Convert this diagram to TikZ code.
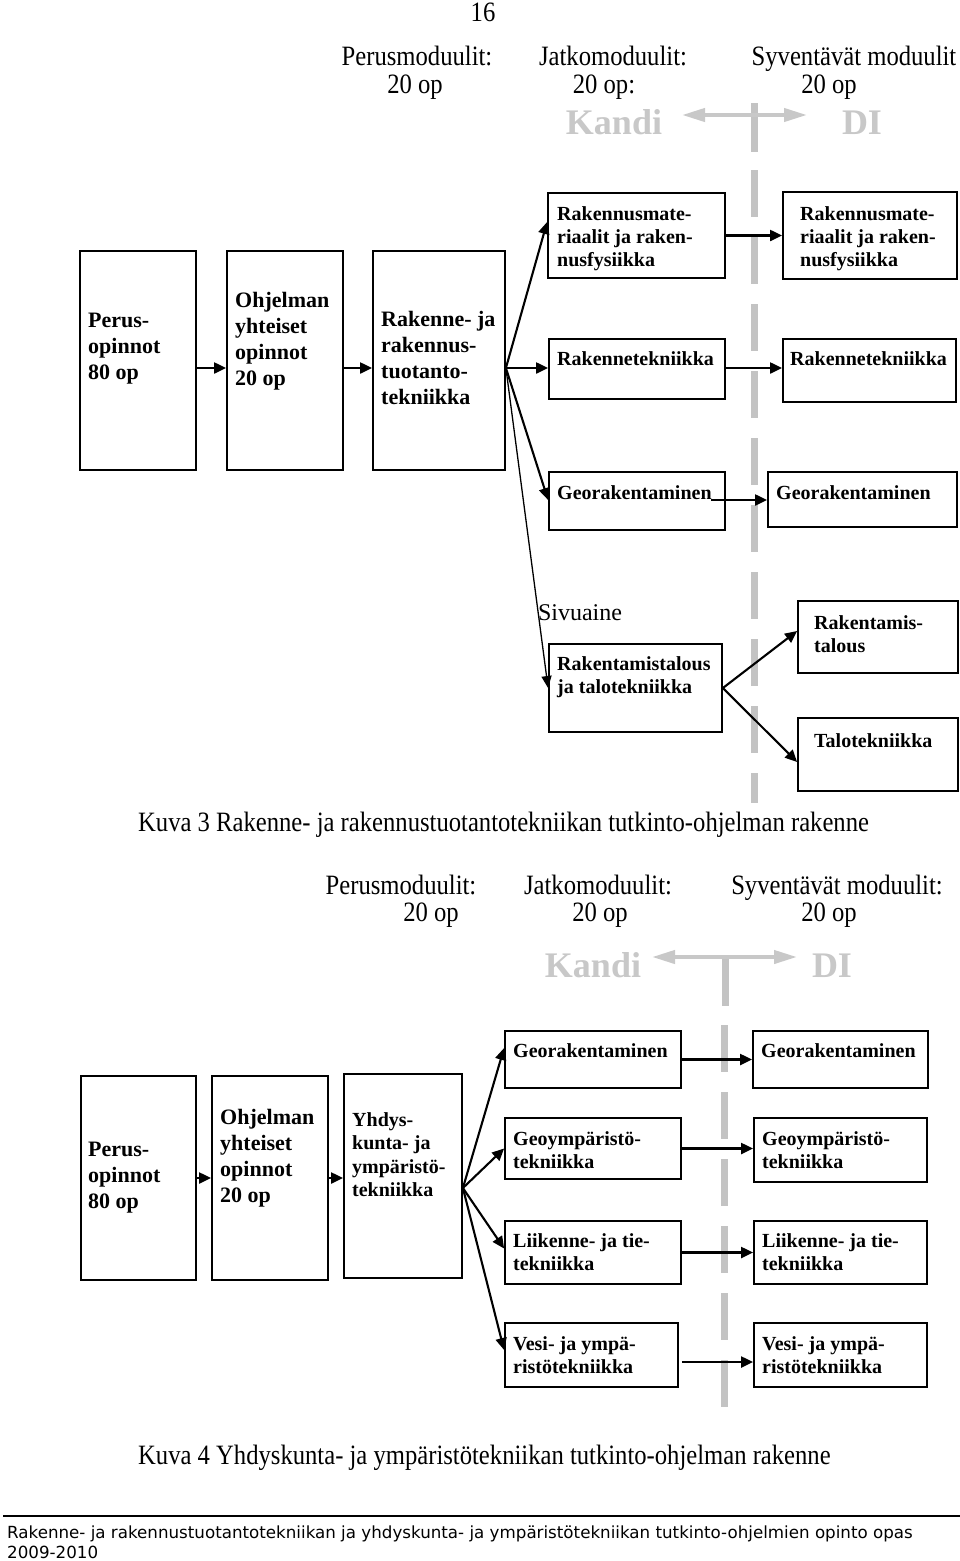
\documentclass[tikz,border=0pt]{standalone}
\usepackage{fontspec}
\setmainfont{Liberation Serif}
\newfontfamily\narrowserif[FakeStretch=0.88]{Liberation Serif}
\newfontfamily\footsans{DejaVu Sans}
\usetikzlibrary{arrows.meta,fit}
\definecolor{kgray}{RGB}{200,200,200}
\definecolor{dgray}{RGB}{195,195,195}
\begin{document}
\begin{tikzpicture}[x=1pt,y=-1pt,
  box/.style={draw, line width=1.8pt, inner sep=0pt},
  bt/.style={anchor=north west, inner sep=0pt, align=left, font=\bfseries\fontsize{20}{23}\selectfont},
  bigt/.style={anchor=north west, inner sep=0pt, align=left, font=\bfseries\fontsize{22}{26}\selectfont},
  hdr/.style={inner sep=0pt, anchor=base, font=\narrowserif\fontsize{28}{28}\selectfont},
  kd/.style={inner sep=0pt, anchor=base, text=kgray, font=\bfseries\fontsize{36}{36}\selectfont},
  kdarrow/.style={draw=kgray, line width=4pt, {Triangle[length=23pt,width=13pt]}-{Triangle[length=23pt,width=13pt]}},
  kdline/.style={draw=dgray, line width=7pt},
  kddash/.style={draw=dgray, line width=7pt, dash pattern=on 47pt off 20pt},
  arr/.style={draw, line width=2.1pt, -{Triangle[length=12pt,width=11pt]}},
  thinarr/.style={draw, line width=1.3pt, -{Triangle[length=12pt,width=10pt]}},
  captxt/.style={anchor=base west, inner sep=0pt, font=\narrowserif\fontsize{28}{28}\selectfont},
  foot/.style={anchor=base west, inner sep=0pt, font=\footsans\fontsize{16.7}{18}\selectfont},
  sivu/.style={anchor=base, inner sep=0pt, font=\fontsize{24}{24}\selectfont},
]
\fill[white] (0,0) rectangle (960,1561);
\useasboundingbox (0,0) rectangle (960,1561);

% page number and header of figure 3
\node[hdr] (pg) at (483,21) {16};
\node[hdr] (h1a) at (417,65) {Perusmoduulit:};
\node[hdr] (h1b) at (415,93) {20 op};
\node[hdr] (h1c) at (613,65) {Jatkomoduulit:};
\node[hdr] (h1d) at (604,93) {20 op:};
\node[hdr] (h1e) at (854,65) {Syventävät moduulit};
\node[hdr] (h1f) at (829,93) {20 op};

% Kandi / DI figure 3
\node[kd] (k1) at (614,134) {Kandi};
\node[kd] (d1) at (862,134) {DI};
\coordinate (k1a) at (682,115);
\coordinate (k1b) at (807,115);
\coordinate (v1a) at (754,103);
\coordinate (v1b) at (754,152);
\coordinate (v1c) at (754,170);
\coordinate (v1d) at (754,803);
\draw[kddash] (v1c) -- (v1d);
\draw[kdline] (v1a) -- (v1b);
\draw[kdarrow] (k1a) -- (k1b);

% boxes figure 3
\node[box, fit={(80,251)(196,470)}] (perus1) {};
\node[box, fit={(227,251)(343,470)}] (ohj1) {};
\node[box, fit={(373,251)(505,470)}] (rak1) {};
\node[box, fit={(548,193)(725,278)}] (b1) {};
\node[box, fit={(549,339)(725,399)}] (b2) {};
\node[box, fit={(549,472)(725,530)}] (b3) {};
\node[box, fit={(549,644)(722,732)}] (b4) {};
\node[box, fit={(783,192)(957,279)}] (r1) {};
\node[box, fit={(783,339)(956,402)}] (r2) {};
\node[box, fit={(768,472)(957,527)}] (r3) {};
\node[box, fit={(798,601)(958,673)}] (r4) {};
\node[box, fit={(798,718)(958,791)}] (r5) {};

\node[bigt] (p1t) at (88,313) {Perus-\\opinnot\\80 op};
\node[bigt] (o1t) at (235,292) {Ohjelman\\yhteiset\\opinnot\\20 op};
\node[bigt] (rk1t) at (381,311) {Rakenne- ja\\rakennus-\\tuotanto-\\tekniikka};
\node[bt] (b1t) at (557,206) {Rakennusmate-\\riaalit ja raken-\\nusfysiikka};
\node[bt] (b2t) at (557,351) {Rakennetekniikka};
\node[bt] (b3t) at (557,485) {Georakentaminen};
\node[bt] (b4t) at (557,656) {Rakentamistalous\\ja talotekniikka};
\node[bt] (r1t) at (800,206) {Rakennusmate-\\riaalit ja raken-\\nusfysiikka};
\node[bt] (r2t) at (790,351) {Rakennetekniikka};
\node[bt] (r3t) at (776,485) {Georakentaminen};
\node[bt] (r4t) at (814,615) {Rakentamis-\\talous};
\node[bt] (r5t) at (814,733) {Talotekniikka};
\node[sivu] (sv) at (580,620) {Sivuaine};

% connectors figure 3
\draw[arr] ([yshift=-7.5pt]perus1.east) -- ([yshift=-7.5pt]ohj1.west);
\draw[arr] ([yshift=-7.5pt]ohj1.east) -- ([yshift=-7.5pt]rak1.west);
\coordinate (j1) at ([yshift=-7.5pt]rak1.east);
\draw[arr] (j1) -- ([yshift=13.5pt]b1.west);
\draw[arr] (j1) -- (b2.west |- j1);
\draw[arr] (j1) -- ([yshift=1pt]b3.west);
\draw[thinarr] (j1) -- (b4.west);
\draw[arr] (b1.east) -- (r1.west);
\draw[arr] (b2.east |- j1) -- (r2.west |- j1);
\coordinate (g1) at (711,500);
\draw[arr] (g1) -- (r3.west |- g1);
\draw[arr] (b4.east) -- ([yshift=6pt]r4.west);
\draw[arr] (b4.east) -- ([yshift=-7.5pt]r5.west);

\node[captxt] (c1) at (138,831) {Kuva 3 Rakenne- ja rakennustuotantotekniikan tutkinto-ohjelman rakenne};

% header figure 4
\node[hdr] (h2a) at (401,894) {Perusmoduulit:};
\node[hdr] (h2b) at (431,921) {20 op};
\node[hdr] (h2c) at (598,894) {Jatkomoduulit:};
\node[hdr] (h2d) at (600,921) {20 op};
\node[hdr] (h2e) at (837,894) {Syventävät moduulit:};
\node[hdr] (h2f) at (829,921) {20 op};

\node[kd] (k2) at (593,977) {Kandi};
\node[kd] (d2) at (832,977) {DI};
\coordinate (k2a) at (652,957);
\coordinate (k2b) at (797,957);
\coordinate (v2a) at (725,957);
\coordinate (v2b) at (725,1006);
\coordinate (v2c) at (724,1025);
\coordinate (v2d) at (724,1408);
\draw[kddash] (v2c) -- (v2d);
\draw[kdline] (v2a) -- (v2b);
\draw[kdarrow] (k2a) -- (k2b);

% boxes figure 4
\node[box, fit={(81,1076)(196,1280)}] (perus2) {};
\node[box, fit={(212,1076)(328,1280)}] (ohj2) {};
\node[box, fit={(344,1074)(462,1278)}] (yhd2) {};
\node[box, fit={(505,1031)(681,1088)}] (geo2) {};
\node[box, fit={(753,1031)(928,1088)}] (geo2d) {};
\node[box, fit={(505,1118)(681,1179)}] (gy) {};
\node[box, fit={(754,1118)(927,1182)}] (gyd) {};
\node[box, fit={(505,1221)(681,1284)}] (li) {};
\node[box, fit={(754,1221)(927,1284)}] (lid) {};
\node[box, fit={(505,1323)(678,1387)}] (ve) {};
\node[box, fit={(754,1323)(927,1387)}] (ved) {};

\node[bigt] (p2t) at (88,1142) {Perus-\\opinnot\\80 op};
\node[bigt] (o2t) at (220,1109) {Ohjelman\\yhteiset\\opinnot\\20 op};
\node[bt, font=\bfseries\fontsize{20}{23.5}\selectfont] (y2t) at (352,1112) {Yhdys-\\kunta- ja\\ympäristö-\\tekniikka};
\node[bt] (geo2t) at (513,1043) {Georakentaminen};
\node[bt] (geo2dt) at (761,1043) {Georakentaminen};
\node[bt] (gyt) at (513,1131) {Geoympäristö-\\tekniikka};
\node[bt] (gydt) at (762,1131) {Geoympäristö-\\tekniikka};
\node[bt] (lit) at (513,1233) {Liikenne- ja tie-\\tekniikka};
\node[bt] (lidt) at (762,1233) {Liikenne- ja tie-\\tekniikka};
\node[bt] (vet) at (513,1336) {Vesi- ja ympä-\\ristötekniikka};
\node[bt] (vedt) at (762,1336) {Vesi- ja ympä-\\ristötekniikka};

% connectors figure 4
\draw[arr] (perus2.east) -- (ohj2.west);
\draw[arr] (ohj2.east) -- (ohj2.east -| yhd2.west);
\coordinate (j2) at ([yshift=-12pt]yhd2.east);
\draw[arr] (j2) -- ([yshift=11.5pt]geo2.west);
\draw[arr] (j2) -- (gy.west);
\draw[arr] (j2) -- ([yshift=4pt]li.west);
\draw[arr] (j2) -- ([yshift=5pt]ve.west);
\draw[arr] (geo2.east) -- (geo2.east -| geo2d.west);
\draw[arr] (gy.east) -- (gy.east -| gyd.west);
\draw[arr] (li.east) -- (li.east -| lid.west);
\coordinate (ve1) at ([xshift=3pt,yshift=-7pt]ve.east);
\draw[arr] (ve1) -- (ved.west |- ve1);

\node[captxt] (c2) at (138,1464) {Kuva 4 Yhdyskunta- ja ympäristötekniikan tutkinto-ohjelman rakenne};

% footer
\coordinate (fl1) at (3,1516);
\coordinate (fl2) at (960,1516);
\draw[line width=1.3pt] (fl1) -- (fl2);
\node[foot] (f1) at (7,1538) {Rakenne- ja rakennustuotantotekniikan ja yhdyskunta- ja ympäristötekniikan tutkinto-ohjelmien opinto opas};
\node[foot] (f2) at (7,1558) {2009-2010};
\end{tikzpicture}
\end{document}
